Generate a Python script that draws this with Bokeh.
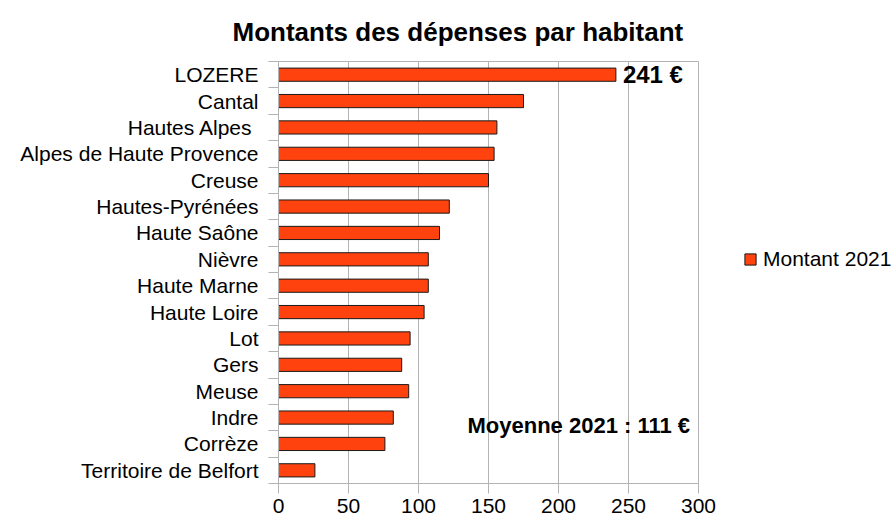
from bokeh.plotting import figure
from bokeh.models import (Range1d, LinearAxis, FixedTicker, CustomLabelingPolicy,
                          CustomJSTickFormatter, Legend, LegendItem, Label, ColumnDataSource)
from bokeh.embed import file_html
from bokeh.resources import INLINE

departements = ["LOZERE", "Cantal", "Hautes Alpes ", "Alpes de Haute Provence", "Creuse",
                "Hautes-Pyrénées", "Haute Saône", "Nièvre", "Haute Marne", "Haute Loire",
                "Lot", "Gers", "Meuse", "Indre", "Corrèze", "Territoire de Belfort"]
montants = [241, 175, 156, 154, 150, 122, 115, 107, 107, 104, 94, 88, 93, 82, 76, 26]
x_ticks = [0, 50, 100, 150, 200, 250, 300]
serie = "Montant 2021"
moyenne = 111

FONT = "Liberation Sans"
GRAY = "#b3b3b3"
n = len(departements)
pos = [n - 1 - i for i in range(n)]  # first category at the top

src = ColumnDataSource(dict(dep=departements, val=montants, pos=pos))

p = figure(frame_width=420, frame_height=422, output_backend="svg", toolbar_location=None,
           y_range=Range1d(-0.5, n - 0.5),
           x_range=Range1d(x_ticks[0], x_ticks[-1]),
           y_axis_location=None,
           min_border_left=278, min_border_right=188, min_border_top=60, min_border_bottom=39)

p.title.text = "Montants des dépenses par habitant"
p.title.text_font = FONT
p.title.text_font_size = "26px"
p.title.text_font_style = "bold"
p.title.text_color = "#000000"
p.title.align = "left"
p.title.offset = -46
p.title.standoff = 29

p.outline_line_color = GRAY
p.ygrid.grid_line_color = None
p.xgrid.grid_line_color = GRAY
p.xgrid.ticker = FixedTicker(ticks=x_ticks)

xa = p.xaxis[0]
xa.ticker = FixedTicker(ticks=x_ticks)
xa.axis_line_color = GRAY
xa.major_tick_line_color = GRAY
xa.major_tick_out = 10
xa.major_tick_in = 0
xa.minor_tick_line_color = None
xa.major_label_text_font = FONT
xa.major_label_text_font_size = "21px"
xa.major_label_text_color = "#000000"
xa.major_label_standoff = 5

no_labels = CustomLabelingPolicy(code="""
const keep = [...indices]
for (const i of keep) { indices.unset(i) }
return indices
""")
sep_axis = LinearAxis(ticker=FixedTicker(ticks=[k - 0.5 for k in range(n + 1)]),
                      formatter=CustomJSTickFormatter(code="return ''"),
                      axis_line_color=GRAY, major_tick_line_color=GRAY,
                      major_tick_out=10, major_tick_in=0, minor_tick_line_color=None,
                      major_label_policy=no_labels, major_label_standoff=0)
p.add_layout(sep_axis, "left")

cat_axis = LinearAxis(ticker=FixedTicker(ticks=pos),
                      major_label_overrides={k: d for k, d in zip(pos, departements)},
                      axis_line_color=None, major_tick_line_color=None,
                      minor_tick_line_color=None, major_tick_out=0, major_tick_in=0,
                      major_label_text_font=FONT, major_label_text_font_size="21px",
                      major_label_text_color="#000000", major_label_standoff=10)
p.add_layout(cat_axis, "left")

r = p.hbar(y="pos", right="val", height=0.5, source=src,
           fill_color="#ff420e", line_color="#1a1a1a", line_width=1)

legend = Legend(items=[LegendItem(label=serie, renderers=[r])], location=(45, 212),
                glyph_width=14, glyph_height=14, label_standoff=6,
                label_text_font=FONT, label_text_font_size="21px", label_text_color="#000000",
                border_line_color=None, background_fill_alpha=0, padding=0, margin=0)
p.add_layout(legend, "right")

p.add_layout(Label(x=montants[0], y=pos[0], x_offset=7,
                   text=f"{montants[0]} €",
                   text_baseline="middle", text_font=FONT, text_font_size="24px",
                   text_font_style="bold", text_color="#000000"))
p.add_layout(Label(x=135, y=1.7, text=f"Moyenne 2021 : {moyenne} €",
                   text_baseline="middle", text_font=FONT, text_font_size="22px",
                   text_font_style="bold", text_color="#000000"))

open("out.html", "w").write(file_html(p, INLINE))
